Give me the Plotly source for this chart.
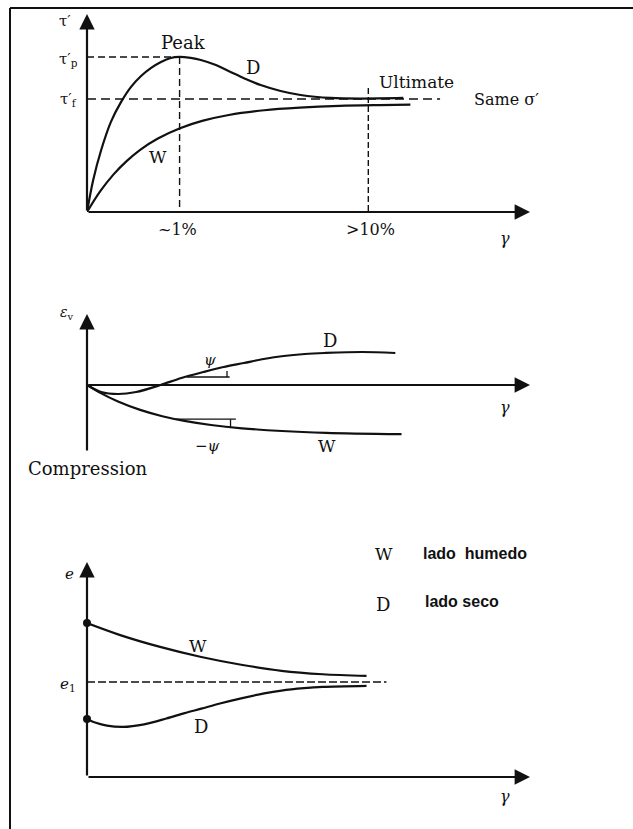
import plotly.graph_objects as go

W_PX, H_PX = 633, 829

# ---------------- data (normalised units) ----------------
# Panel 1: shear stress tau' vs shear strain gamma
g1_D = [0, 0.014, 0.032, 0.054, 0.077, 0.099, 0.122, 0.144, 0.167, 0.189, 0.209,
        0.234, 0.257, 0.291, 0.324, 0.358, 0.392, 0.437, 0.482, 0.550, 0.617, 0.714]
t1_D = [0, 0.162, 0.313, 0.455, 0.556, 0.631, 0.687, 0.727, 0.758, 0.778, 0.783,
        0.778, 0.768, 0.742, 0.707, 0.672, 0.641, 0.611, 0.591, 0.576, 0.573, 0.576]
g1_W = [0, 0.03, 0.06, 0.09, 0.12, 0.16, 0.21, 0.26, 0.32, 0.40, 0.48, 0.57, 0.66, 0.73]
t1_W = [0, 0.105, 0.190, 0.258, 0.314, 0.371, 0.423, 0.460, 0.490, 0.514, 0.527,
        0.536, 0.540, 0.542]
gamma_peak = 0.209
gamma_ult = 0.635
tau_p = 0.783
tau_f = 0.571
tau_ult_top = 0.626
tau_f_end = 0.797
tick_labels_1 = ["~1%", ">10%"]

# Panel 2: volumetric strain eps_v vs gamma
g2_D = [0, 0.032, 0.070, 0.111, 0.166, 0.213, 0.263, 0.308, 0.354, 0.399, 0.444,
        0.492, 0.537, 0.621, 0.696]
e2_D = [0, -0.07, -0.09, -0.07, 0, 0.07, 0.13, 0.18, 0.22, 0.26, 0.29,
        0.31, 0.32, 0.33, 0.32]
g2_W = [0, 0.03, 0.07, 0.12, 0.17, 0.22, 0.28, 0.35, 0.44, 0.54, 0.71]
e2_W = [0, -0.079, -0.165, -0.249, -0.312, -0.359, -0.400, -0.433, -0.460, -0.478, -0.492]
psi_D = dict(y=0.08, x0=0.225, x1=0.322, tick_top=0.14)
psi_W = dict(y=-0.342, x0=0.20, x1=0.336, tick_bot=-0.422)

# Panel 3: void ratio e vs gamma
g3_W = [0, 0.075, 0.165, 0.258, 0.348, 0.439, 0.532, 0.631]
e3_W = [0.716, 0.660, 0.605, 0.558, 0.522, 0.494, 0.478, 0.470]
g3_D = [0, 0.02, 0.045, 0.081, 0.129, 0.179, 0.22, 0.258, 0.30, 0.348, 0.40,
        0.439, 0.49, 0.532, 0.631]
e3_D = [0.270, 0.252, 0.239, 0.233, 0.245, 0.272, 0.297, 0.318, 0.342, 0.366, 0.389,
        0.402, 0.413, 0.419, 0.424]
e_1 = 0.442
e_1_end = 0.676

# ---------------- helpers ----------------
def xdom(p0, p1):
    return [p0 / W_PX, p1 / W_PX]

def ydom(ptop, pbot):
    return [(H_PX - pbot) / H_PX, (H_PX - ptop) / H_PX]

def P(x, y):
    return x / W_PX, 1 - y / H_PX

SERIF = "DejaVu Serif"
BLACK = "#111111"

fig = go.Figure()

line = dict(color=BLACK, width=2.2, shape="spline", smoothing=0.9)
for gx, gy, xa, ya in [(g1_D, t1_D, "x", "y"), (g1_W, t1_W, "x", "y"),
                       (g2_D, e2_D, "x2", "y2"), (g2_W, e2_W, "x2", "y2"),
                       (g3_W, e3_W, "x3", "y3"), (g3_D, e3_D, "x3", "y3")]:
    fig.add_trace(go.Scatter(x=gx, y=gy, mode="lines", line=line, xaxis=xa, yaxis=ya,
                             cliponaxis=False))
fig.add_trace(go.Scatter(x=[g3_W[0], g3_D[0]], y=[e3_W[0], e3_D[0]], mode="markers",
                         marker=dict(color=BLACK, size=8), xaxis="x3", yaxis="y3",
                         cliponaxis=False))

shapes = []
dash = "7px,4px"
def seg(xr, yr, x0, y0, x1, y1, d=None, w=1.4):
    ln = dict(color=BLACK, width=w)
    if d:
        ln["dash"] = d
    shapes.append(dict(type="line", xref=xr, yref=yr, x0=x0, y0=y0, x1=x1, y1=y1, line=ln))

# panel 1 reference lines
seg("x", "y", 0, tau_p, gamma_peak, tau_p, dash)
seg("x", "y", gamma_peak, tau_p, gamma_peak, 0, dash)
seg("x", "y", 0, tau_f, tau_f_end, tau_f, "9px,5px")
seg("x", "y", gamma_ult, tau_ult_top, gamma_ult, 0, "6px,3px")
# panel 2 slope markers
seg("x2", "y2", psi_D["x0"], psi_D["y"], psi_D["x1"], psi_D["y"], w=1.3)
seg("x2", "y2", psi_D["x1"] - 0.006, psi_D["y"], psi_D["x1"] - 0.006, psi_D["tick_top"], w=1.3)
seg("x2", "y2", psi_W["x0"], psi_W["y"], psi_W["x1"], psi_W["y"], w=1.3)
seg("x2", "y2", psi_W["x1"] - 0.012, psi_W["y"], psi_W["x1"] - 0.012, psi_W["tick_bot"], w=1.3)
# panel 3 e1 line
seg("x3", "y3", 0, e_1, e_1_end, e_1, "8px,3px")
# frame (top & left)
shapes.append(dict(type="line", xref="paper", yref="paper", x0=10 / W_PX, x1=1, y0=1 - 8 / H_PX,
                   y1=1 - 8 / H_PX, line=dict(color=BLACK, width=2)))
shapes.append(dict(type="line", xref="paper", yref="paper", x0=10 / W_PX, x1=10 / W_PX, y0=0,
                   y1=1 - 8 / H_PX, line=dict(color=BLACK, width=2)))

annotations = []
def arrow(xr, yr, x0, y0, x1, y1):
    annotations.append(dict(x=x1, y=y1, ax=x0, ay=y0, xref=xr, yref=yr, axref=xr, ayref=yr,
                            text="", showarrow=True, arrowhead=2, arrowsize=1.4,
                            arrowwidth=2.2, arrowcolor=BLACK, standoff=0))

arrow("x", "y", 0, 0, 1, 0)
arrow("x", "y", 0, 0, 0, 1)
arrow("x2", "y2", 0, 0, 1, 0)
arrow("x2", "y2", 0, -0.67, 0, 0.71)
arrow("x3", "y3", 0, 0, 1, 0)
arrow("x3", "y3", 0, 0, 0, 1)

def txt(x, y, t, size=17, family=SERIF, bold=False, xanchor="center"):
    px, py = P(x, y)
    annotations.append(dict(x=px, y=py, xref="paper", yref="paper", text=t, showarrow=False,
                            xanchor=xanchor, yanchor="middle",
                            font=dict(family=("Liberation Sans" if bold else family), size=size,
                                      color=BLACK, weight=("bold" if bold else "normal"))))

# panel 1 labels
txt(65, 21, "τ′", 15)
txt(68, 59, "τ′<sub>p</sub>", 15)
txt(68, 100, "τ′<sub>f</sub>", 15)
txt(183, 43, "Peak", 18)
txt(253, 67, "D", 18)
txt(416, 82, "Ultimate", 17)
txt(506, 100, "Same σ′", 16)
txt(158, 157, "W", 17)
txt(177, 229, tick_labels_1[0], 16)
txt(370, 229, tick_labels_1[1], 16)
txt(505, 239, "<i>γ</i>", 16)
# panel 2 labels
txt(67, 313, "<i>ε</i><sub>v</sub>", 14)
txt(330, 340, "D", 18)
txt(210, 360, "<i>ψ</i>", 15)
txt(505, 407, "<i>γ</i>", 16)
txt(207, 446, "−<i>ψ</i>", 15)
txt(327, 446, "W", 17)
txt(88, 468, "Compression", 18)
# panel 3 labels
txt(69, 574, "<i>e</i>", 15)
txt(68, 684, "<i>e</i><sub>1</sub>", 15)
txt(198, 646, "W", 17)
txt(201, 726, "D", 18)
txt(505, 796, "<i>γ</i>", 16)
txt(384, 554, "W", 17)
txt(421, 553, "lado  humedo", 16, bold=True, xanchor="left")
txt(383, 604, "D", 18)
txt(423, 601, "lado seco", 16, bold=True, xanchor="left")

ax_common = dict(visible=False, showgrid=False, zeroline=False, fixedrange=True)
fig.update_layout(
    width=W_PX, height=H_PX, margin=dict(l=0, r=0, t=0, b=0),
    paper_bgcolor="white", plot_bgcolor="rgba(0,0,0,0)", showlegend=False,
    xaxis=dict(ax_common, domain=xdom(87, 530), range=[0, 1]),
    yaxis=dict(ax_common, domain=ydom(14, 212), range=[0, 1]),
    xaxis2=dict(ax_common, domain=xdom(87, 530), range=[0, 1]),
    yaxis2=dict(ax_common, domain=ydom(310, 460), range=[-0.75, 0.75]),
    xaxis3=dict(ax_common, domain=xdom(87, 530), range=[0, 1]),
    yaxis3=dict(ax_common, domain=ydom(562, 777), range=[0, 1]),
    shapes=shapes, annotations=annotations,
)

fig.write_html("out.html")
